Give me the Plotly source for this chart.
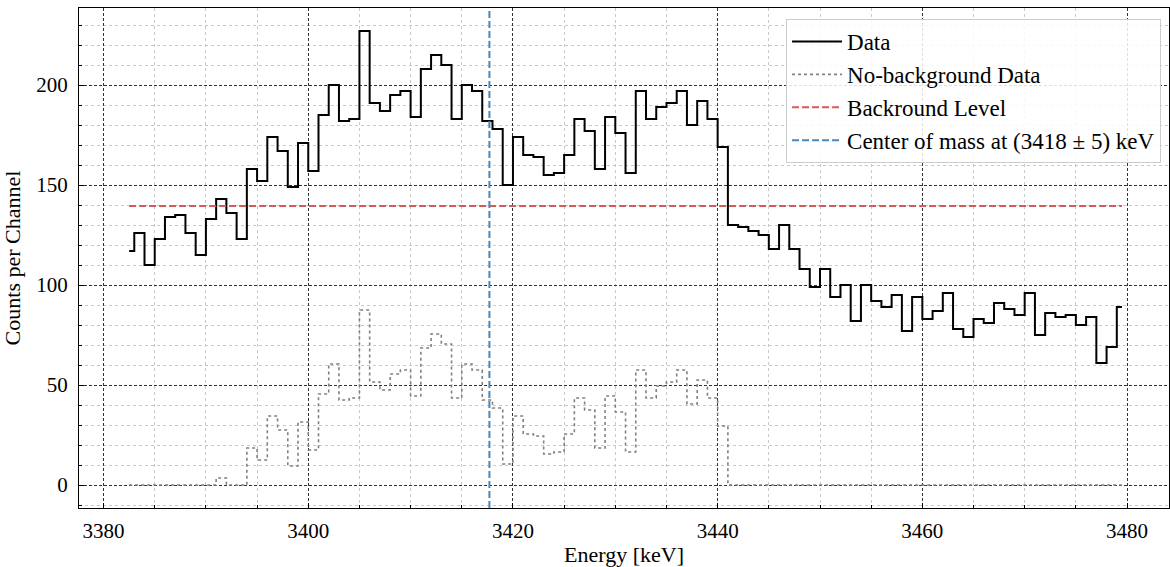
import numpy as np
import plotly.graph_objects as go

# Channel energies (keV) - bin centres
energy_start = 3382.5
counts = [117, 126, 110, 123, 134, 135, 126, 115, 133, 143,
          136, 123, 158, 152, 174, 167, 149, 171, 157, 185,
          200, 182, 183, 227, 191, 187, 195, 197, 184, 208,
          215, 210, 183, 200, 197, 182, 178, 150, 174, 165,
          164, 155, 156, 165, 183, 177, 158, 184, 176, 156,
          197, 183, 189, 191, 197, 180, 192, 183, 169, 130,
          129, 127, 125, 118, 130, 118, 108, 99, 108, 94,
          100, 82, 100, 92, 89, 95, 77, 94, 83, 87,
          96, 78, 74, 83, 81, 91, 88, 85, 96, 75,
          86, 84, 85, 80, 84, 61, 69, 89]
energy = [energy_start + i for i in range(len(counts))]
background = 139.5
center_of_mass = 3417.7

nobkg = [max(c - background, 0.0) for c in counts]

FONT = "Liberation Serif, Times New Roman, serif"
fig = go.Figure()

fig.add_trace(go.Scatter(x=energy, y=counts, mode="lines", line_shape="hvh",
                         line=dict(color="black", width=2), name="Data"))
fig.add_trace(go.Scatter(x=energy, y=nobkg, mode="lines", line_shape="hvh",
                         line=dict(color="#808080", width=1.6, dash="dot"),
                         name="No-background Data"))
fig.add_trace(go.Scatter(x=[energy[0], energy[-1]], y=[background, background],
                         mode="lines", line=dict(color="#d65a5a", width=1.8, dash="7px,3px"),
                         name="Backround Level"))
fig.add_shape(type="line", x0=center_of_mass, x1=center_of_mass, yref="y domain",
              y0=0, y1=1, line=dict(color="#4a86bd", width=2, dash="7px,3px"),
              showlegend=True, name="Center of mass at (3418 ± 5) keV", layer="above")

axis_common = dict(
    showline=True, linecolor="black", linewidth=1.2, mirror=True,
    ticks="inside", ticklen=5, tickcolor="black",
    showgrid=True, gridcolor="#333333", gridwidth=0.8, griddash="3px,2px",
    zeroline=False, automargin=False,
    tickfont=dict(family=FONT, size=21, color="black"),
)

fig.update_xaxes(range=[3377.6, 3484.1], dtick=20, tick0=3380,
                 minor=dict(dtick=5, showgrid=True, gridcolor="#c8c8c8", griddash="dot",
                            gridwidth=0.8, ticks="inside", ticklen=3, tickcolor="black"),
                 ticklabelstandoff=4,
                 title=dict(text="Energy [keV]", font=dict(family=FONT, size=22, color="black"),
                            standoff=8),
                 **axis_common)
fig.update_yaxes(range=[-11.5, 238.5], dtick=50, tick0=0,
                 minor=dict(dtick=10, showgrid=True, gridcolor="#c8c8c8", griddash="dot",
                            gridwidth=0.8, ticks="inside", ticklen=3, tickcolor="black"),
                 ticklabelstandoff=6,
                 title=dict(text="Counts per Channel", font=dict(family=FONT, size=22, color="black"),
                            standoff=10),
                 **axis_common)

fig.update_layout(
    width=1170, height=567,
    margin=dict(l=79, r=1, t=8, b=59),
    plot_bgcolor="white", paper_bgcolor="white",
    font=dict(family=FONT, size=21, color="black"),
    legend=dict(x=0.9927, y=0.978, xanchor="right", yanchor="top",
                bgcolor="rgba(255,255,255,0.85)", bordercolor="#cccccc", borderwidth=1,
                font=dict(family=FONT, size=23, color="black"),
                itemwidth=50, tracegroupgap=0),
    showlegend=True,
)

fig.write_html("out.html", config={"displayModeBar": False},
               post_script="document.body.style.margin='0';document.body.style.overflow='hidden';")
